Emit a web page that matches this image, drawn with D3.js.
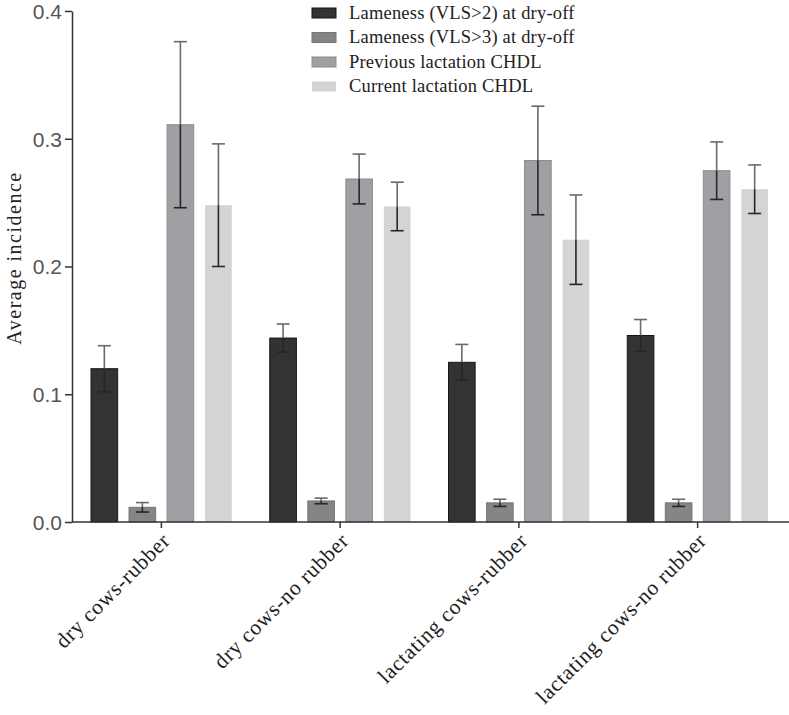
<!DOCTYPE html>
<html>
<head>
<meta charset="utf-8">
<script src="https://cdn.jsdelivr.net/npm/d3@7/dist/d3.min.js"></script>
<style>
  html, body { margin: 0; padding: 0; background: #fff; }
  svg { display: block; }
</style>
</head>
<body>
<svg id="chart" width="789" height="715"></svg>
<script>
// ---- data ----
const categories = ["dry cows-rubber", "dry cows-no rubber", "lactating cows-rubber", "lactating cows-no rubber"];
const seriesNames = ["Lameness (VLS>2) at dry-off", "Lameness (VLS>3) at dry-off", "Previous lactation CHDL", "Current lactation CHDL"];
const lameVLS2 = [0.120, 0.144, 0.125, 0.146];
const lameVLS2Err = [0.018, 0.011, 0.014, 0.0125];
const lameVLS3 = [0.0115, 0.0165, 0.015, 0.015];
const lameVLS3Err = [0.0037, 0.0022, 0.0028, 0.0028];
const prevCHDL = [0.311, 0.2685, 0.283, 0.275];
const prevCHDLErr = [0.065, 0.0195, 0.0425, 0.0225];
const currCHDL = [0.248, 0.247, 0.221, 0.2605];
const currCHDLErr = [0.048, 0.019, 0.035, 0.019];
const yTicks = [0.0, 0.1, 0.2, 0.3, 0.4];

const seriesValues = [lameVLS2, lameVLS3, prevCHDL, currCHDL];
const seriesErrors = [lameVLS2Err, lameVLS3Err, prevCHDLErr, currCHDLErr];
const fills = ["#333333", "#858585", "#a0a0a4", "#d4d4d4"];
const strokes = ["#151515", "#767676", "#8c8c90", "none"];

const svg = d3.select("#chart");
const x0 = d3.scaleBand().domain(categories).range([72, 787]).padding(0);
const x1 = d3.scaleBand().domain(d3.range(seriesNames.length)).range([0, x0.bandwidth()]).paddingInner(0.3).paddingOuter(0.5);
const y = d3.scaleLinear().domain([0, 0.4]).range([522, 11]);

const rows = [];
categories.forEach((c, ci) => {
  seriesValues.forEach((vals, si) => {
    rows.push({ c, si, v: vals[ci], e: seriesErrors[si][ci] });
  });
});

// bars
svg.append("g").selectAll("rect").data(rows).join("rect")
  .attr("x", d => x0(d.c) + x1(d.si))
  .attr("y", d => y(d.v))
  .attr("width", x1.bandwidth())
  .attr("height", d => y(0) - y(d.v))
  .attr("fill", d => fills[d.si])
  .attr("stroke", d => strokes[d.si])
  .attr("stroke-width", 1);

// error bars
const eb = svg.append("g").selectAll("g").data(rows).join("g")
  .attr("transform", d => `translate(${x0(d.c) + x1(d.si) + x1.bandwidth() / 2},0)`);
const capW = 6.5;
eb.append("line").attr("x1", 0).attr("x2", 0)
  .attr("y1", d => y(d.v + d.e)).attr("y2", d => y(d.v))
  .attr("stroke", "#6a6a6a").attr("stroke-width", 1.6);
eb.append("line").attr("x1", 0).attr("x2", 0)
  .attr("y1", d => y(d.v)).attr("y2", d => y(d.v - d.e))
  .attr("stroke", "#262626").attr("stroke-width", 1.6);
eb.append("line").attr("x1", -capW).attr("x2", capW)
  .attr("y1", d => y(d.v + d.e)).attr("y2", d => y(d.v + d.e))
  .attr("stroke", "#6a6a6a").attr("stroke-width", 1.6);
eb.append("line").attr("x1", -capW).attr("x2", capW)
  .attr("y1", d => y(d.v - d.e)).attr("y2", d => y(d.v - d.e))
  .attr("stroke", "#262626").attr("stroke-width", 1.6);

// y axis
const yAxis = svg.append("g")
  .attr("transform", `translate(${x0.range()[0]},0)`)
  .call(d3.axisLeft(y).tickValues(yTicks).tickFormat(d3.format(".1f")).tickSize(7).tickSizeOuter(0).tickPadding(3));
yAxis.select(".domain").attr("stroke", "#333").attr("stroke-width", 1.5);
yAxis.selectAll(".tick line").attr("stroke", "#333").attr("stroke-width", 1.5);
yAxis.selectAll(".tick text")
  .attr("font-family", "'Liberation Sans', Arial, sans-serif")
  .attr("font-size", 21).attr("fill", "#555").attr("dy", "0.35em");

// x axis
const xAxis = svg.append("g")
  .attr("transform", `translate(0,${y(0)})`)
  .call(d3.axisBottom(x0).tickSize(6).tickSizeOuter(0).tickFormat(""));
xAxis.select(".domain").attr("stroke", "#333").attr("stroke-width", 1.5)
  .attr("d", `M${x0.range()[0]},0H789`);
xAxis.selectAll(".tick line").attr("stroke", "#333").attr("stroke-width", 1.5);

// x labels
svg.append("g").selectAll("text").data(categories).join("text")
  .attr("transform", d => `translate(${x0(d) + x0.bandwidth() / 2 + 10},542) rotate(-45)`)
  .attr("text-anchor", "end")
  .attr("font-family", "'Liberation Serif', 'Times New Roman', serif")
  .attr("font-size", 21.5)
  .attr("letter-spacing", 0.7)
  .attr("fill", "#222")
  .text(d => d);

// y title
svg.append("text")
  .attr("transform", `translate(21,${(171 + 345) / 2}) rotate(-90)`)
  .attr("text-anchor", "middle")
  .attr("font-family", "'Liberation Serif', 'Times New Roman', serif")
  .attr("font-size", 20)
  .attr("letter-spacing", 1.5)
  .attr("fill", "#222")
  .text("Average incidence");

// legend
const legend = svg.append("g").attr("transform", "translate(312,0)");
const lg = legend.selectAll("g").data(seriesNames).join("g")
  .attr("transform", (d, i) => `translate(0,${13 + i * 24.5})`);
lg.append("rect").attr("x", 0).attr("y", -5).attr("width", 24).attr("height", 10)
  .attr("fill", (d, i) => fills[i])
  .attr("stroke", (d, i) => strokes[i]).attr("stroke-width", 1);
lg.append("text").attr("x", 37).attr("y", 5.5)
  .attr("font-family", "'Liberation Serif', 'Times New Roman', serif")
  .attr("font-size", 18.5)
  .attr("letter-spacing", 0.2)
  .attr("fill", "#222")
  .text(d => d);
</script>
</body>
</html>
